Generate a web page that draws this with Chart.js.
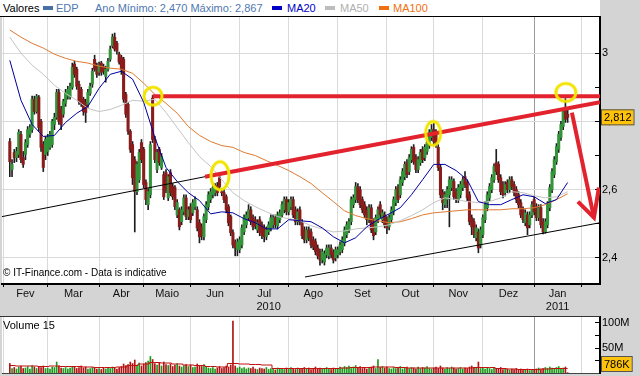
<!DOCTYPE html>
<html>
<head>
<meta charset="utf-8">
<script src="https://cdn.jsdelivr.net/npm/chart.js@4.4.1/dist/chart.umd.min.js"></script>
<style>
  body { margin: 0; }
  #wrap { position: relative; width: 640px; height: 376px; background: #d4d4d4; overflow: hidden;
          font-family: "Liberation Sans", Arial, sans-serif; }
  canvas { position: absolute; left: 0; }
  #legend { position: absolute; left: 0; top: 0; width: 600px; height: 17px; box-sizing: border-box;
            background: #fff; border-bottom: 1px solid #000; font-size: 11px; z-index: 2; }
  #legend span { position: absolute; top: 2px; white-space: nowrap; }
  #legend i { position: absolute; top: 6px; width: 10px; height: 4px; }
  .note { position: absolute; white-space: nowrap; color: #000; z-index: 2; }
</style>
</head>
<body>
<div id="wrap">
  <canvas id="main" width="640" height="311" style="top:0"></canvas>
  <canvas id="vol" width="640" height="65" style="top:311px"></canvas>
  <div id="legend">
    <span style="left:3px;color:#000">Valores</span>
    <i style="left:43px;background:#4a6fa5"></i>
    <span style="left:56px;color:#4f79b0">EDP</span>
    <span style="left:95px;color:#4f79b0">Ano Mínimo: 2,470 Máximo: 2,867</span>
    <i style="left:272px;background:#0000c8"></i>
    <span style="left:287px;color:#0000c8">MA20</span>
    <i style="left:325px;background:#bdbdbd"></i>
    <span style="left:340px;color:#b0b0b0">MA50</span>
    <i style="left:379px;background:#f07010"></i>
    <span style="left:393px;color:#f07010">MA100</span>
  </div>
  <div class="note" style="left:3px;top:267px;font-size:10px">© IT-Finance.com - Data is indicative</div>
  <div class="note" style="left:3px;top:319px;font-size:11px">Volume 15</div>
</div>
<script>
// daily candles, trading-day index starts at firstDay (Feb 2010 = day 0); prices in thousandths of a euro
const firstDay = 3;
const openK = [
  2741, 2659, 2709, 2694, 2703, 2762, 2694, 2703, 2732, 2762,
  2776, 2865, 2829, 2871, 2800, 2732, 2703, 2712, 2724, 2732,
  2791, 2812, 2885, 2835, 2821, 2853, 2874, 2871, 2900, 2968,
  2953, 2909, 2894, 2865, 2856, 2850, 2882, 2909, 2982, 2965,
  2944, 2971, 2959, 2932, 2953, 2982, 3021, 3047, 3029, 2997,
  2988, 2982, 2879, 2850, 2771, 2732, 2688, 2594, 2629, 2738,
  2718, 2621, 2556, 2585, 2868, 2747, 2659, 2718, 2665, 2644,
  2650, 2576, 2650, 2609, 2606, 2526, 2541, 2506, 2535, 2576,
  2521, 2550, 2532, 2550, 2541, 2503, 2491, 2462, 2512, 2550,
  2571, 2585, 2591, 2612, 2635, 2594, 2591, 2579, 2550, 2521,
  2474, 2447, 2424, 2424, 2438, 2476, 2497, 2518, 2541, 2518,
  2512, 2482, 2512, 2497, 2488, 2462, 2476, 2488, 2497, 2518,
  2494, 2512, 2526, 2541, 2571, 2535, 2550, 2571, 2541, 2506,
  2541, 2503, 2482, 2453, 2482, 2476, 2453, 2447, 2429, 2418,
  2394, 2388, 2409, 2406, 2429, 2415, 2400, 2409, 2418, 2424,
  2444, 2468, 2482, 2506, 2556, 2571, 2609, 2600, 2571, 2556,
  2541, 2512, 2547, 2506, 2476, 2512, 2556, 2512, 2526, 2512,
  2491, 2512, 2535, 2562, 2606, 2585, 2621, 2638, 2679, 2653,
  2688, 2724, 2694, 2659, 2679, 2718, 2694, 2712, 2729, 2753,
  2776, 2768, 2724, 2665, 2591, 2556, 2571, 2585, 2606, 2624,
  2594, 2571, 2585, 2606, 2638, 2621, 2585, 2518, 2506, 2459,
  2476, 2438, 2468, 2512, 2547, 2576, 2600, 2629, 2679, 2674,
  2635, 2615, 2591, 2621, 2600, 2629, 2615, 2600, 2585, 2562,
  2541, 2503, 2526, 2497, 2526, 2571, 2550, 2518, 2547, 2506,
  2476, 2497, 2547, 2600, 2644, 2682, 2718, 2753, 2785, 2841, 2821
];
const highK = [
  2750, 2688, 2718, 2724, 2776, 2771, 2712, 2747, 2785, 2791,
  2874, 2874, 2879, 2876, 2806, 2741, 2756, 2762, 2771, 2806,
  2824, 2894, 2894, 2844, 2865, 2894, 2903, 2912, 2971, 2976,
  2959, 2918, 2900, 2871, 2865, 2894, 2912, 2956, 2994, 2971,
  2974, 2976, 2968, 2962, 2985, 3021, 3056, 3059, 3035, 3003,
  2994, 2988, 2885, 2856, 2776, 2741, 2697, 2682, 2718, 2747,
  2724, 2629, 2603, 2741, 2876, 2756, 2718, 2724, 2706, 2653,
  2659, 2644, 2659, 2618, 2612, 2571, 2547, 2550, 2585, 2585,
  2550, 2559, 2571, 2579, 2550, 2512, 2500, 2529, 2565, 2594,
  2603, 2615, 2618, 2621, 2647, 2603, 2600, 2585, 2556, 2526,
  2482, 2453, 2456, 2462, 2497, 2526, 2535, 2556, 2550, 2526,
  2521, 2512, 2521, 2506, 2497, 2491, 2506, 2526, 2526, 2526,
  2535, 2541, 2565, 2579, 2579, 2571, 2579, 2579, 2550, 2544,
  2550, 2512, 2491, 2491, 2491, 2485, 2462, 2456, 2438, 2426,
  2426, 2421, 2438, 2438, 2438, 2424, 2432, 2432, 2447, 2462,
  2491, 2506, 2515, 2579, 2585, 2621, 2618, 2609, 2579, 2565,
  2550, 2556, 2556, 2515, 2526, 2550, 2565, 2541, 2535, 2521,
  2526, 2550, 2579, 2609, 2615, 2638, 2662, 2682, 2688, 2703,
  2726, 2732, 2703, 2697, 2718, 2726, 2732, 2747, 2776, 2791,
  2794, 2776, 2732, 2674, 2600, 2594, 2609, 2638, 2638, 2632,
  2603, 2615, 2624, 2638, 2653, 2629, 2594, 2526, 2515, 2497,
  2485, 2491, 2526, 2565, 2594, 2618, 2644, 2676, 2718, 2682,
  2644, 2624, 2624, 2629, 2638, 2638, 2624, 2609, 2594, 2571,
  2550, 2541, 2535, 2535, 2565, 2579, 2559, 2556, 2556, 2515,
  2515, 2565, 2615, 2662, 2697, 2735, 2771, 2800, 2838, 2867, 2835
];
const lowK = [
  2638, 2638, 2679, 2682, 2694, 2679, 2665, 2688, 2724, 2753,
  2768, 2821, 2824, 2771, 2712, 2653, 2688, 2700, 2718, 2724,
  2776, 2806, 2791, 2776, 2812, 2844, 2865, 2865, 2894, 2929,
  2894, 2850, 2844, 2818, 2797, 2841, 2876, 2900, 2947, 2929,
  2935, 2935, 2938, 2915, 2947, 2976, 3015, 3006, 2997, 2968,
  2938, 2856, 2812, 2762, 2709, 2615, 2476, 2585, 2621, 2679,
  2606, 2556, 2541, 2576, 2738, 2679, 2650, 2671, 2659, 2571,
  2591, 2568, 2582, 2571, 2541, 2518, 2482, 2497, 2526, 2512,
  2512, 2503, 2524, 2541, 2479, 2444, 2453, 2453, 2503, 2541,
  2562, 2576, 2582, 2582, 2600, 2582, 2562, 2532, 2494, 2465,
  2429, 2406, 2406, 2415, 2429, 2468, 2488, 2509, 2497, 2482,
  2485, 2474, 2465, 2456, 2447, 2453, 2468, 2479, 2488, 2488,
  2485, 2503, 2518, 2532, 2526, 2526, 2541, 2518, 2497, 2497,
  2497, 2456, 2444, 2444, 2450, 2429, 2424, 2409, 2397, 2379,
  2385, 2379, 2400, 2397, 2400, 2385, 2391, 2400, 2409, 2415,
  2435, 2459, 2474, 2497, 2547, 2562, 2562, 2547, 2532, 2518,
  2497, 2503, 2474, 2453, 2468, 2503, 2518, 2503, 2488, 2471,
  2482, 2503, 2526, 2553, 2562, 2576, 2612, 2629, 2635, 2644,
  2679, 2674, 2650, 2650, 2671, 2679, 2685, 2703, 2721, 2744,
  2732, 2724, 2656, 2576, 2541, 2547, 2547, 2491, 2597, 2571,
  2562, 2562, 2576, 2597, 2606, 2568, 2497, 2468, 2459, 2450,
  2415, 2429, 2459, 2503, 2538, 2568, 2591, 2621, 2644, 2621,
  2585, 2576, 2582, 2591, 2591, 2600, 2582, 2562, 2547, 2518,
  2503, 2494, 2468, 2488, 2518, 2526, 2509, 2509, 2488, 2470,
  2472, 2488, 2538, 2591, 2635, 2674, 2709, 2744, 2776, 2797, 2797
];
const closeK = [
  2682, 2674, 2694, 2712, 2768, 2688, 2674, 2738, 2776, 2782,
  2865, 2829, 2874, 2782, 2724, 2665, 2747, 2753, 2762, 2800,
  2812, 2885, 2800, 2791, 2859, 2885, 2894, 2903, 2959, 2938,
  2903, 2859, 2853, 2829, 2826, 2885, 2903, 2947, 2953, 2938,
  2965, 2944, 2947, 2953, 2976, 3012, 3047, 3012, 3006, 2974,
  2953, 2865, 2821, 2771, 2718, 2635, 2594, 2674, 2709, 2688,
  2615, 2571, 2594, 2732, 2747, 2688, 2709, 2679, 2697, 2579,
  2600, 2638, 2591, 2579, 2550, 2562, 2491, 2541, 2576, 2521,
  2541, 2512, 2562, 2571, 2488, 2462, 2465, 2521, 2556, 2585,
  2594, 2606, 2609, 2591, 2609, 2591, 2571, 2541, 2503, 2474,
  2438, 2429, 2447, 2453, 2488, 2518, 2526, 2541, 2506, 2491,
  2494, 2503, 2474, 2465, 2462, 2482, 2497, 2518, 2518, 2497,
  2526, 2532, 2556, 2571, 2535, 2562, 2571, 2526, 2506, 2535,
  2506, 2465, 2453, 2482, 2459, 2438, 2432, 2418, 2406, 2394,
  2418, 2412, 2429, 2429, 2409, 2394, 2424, 2424, 2438, 2453,
  2482, 2497, 2506, 2571, 2576, 2609, 2571, 2556, 2541, 2526,
  2512, 2547, 2482, 2465, 2518, 2541, 2526, 2532, 2497, 2488,
  2518, 2541, 2571, 2600, 2571, 2629, 2653, 2674, 2644, 2694,
  2718, 2682, 2659, 2688, 2709, 2688, 2724, 2738, 2768, 2776,
  2741, 2732, 2665, 2585, 2562, 2585, 2600, 2629, 2629, 2579,
  2571, 2606, 2615, 2629, 2615, 2576, 2506, 2491, 2468, 2488,
  2429, 2482, 2518, 2556, 2585, 2609, 2635, 2668, 2653, 2629,
  2594, 2585, 2615, 2600, 2629, 2609, 2591, 2571, 2556, 2526,
  2512, 2532, 2488, 2526, 2556, 2535, 2518, 2547, 2497, 2476,
  2506, 2556, 2606, 2653, 2688, 2726, 2762, 2791, 2829, 2806, 2812
];
// daily volume, millions of shares
const volumeM = [
  19, 9, 11, 8, 12, 14, 9, 10, 13, 8,
  15, 12, 9, 13, 11, 14, 9, 10, 8, 12,
  11, 22, 14, 10, 9, 11, 8, 10, 13, 12,
  9, 11, 14, 10, 12, 8, 9, 11, 10, 8,
  9, 7, 10, 8, 11, 9, 12, 10, 8, 11,
  13, 18, 15, 17, 22, 19, 26, 16, 20, 14,
  18, 21, 24, 33, 27, 19, 16, 20, 14, 22,
  17, 15, 18, 13, 16, 19, 14, 12, 15, 17,
  13, 16, 11, 12, 18, 15, 13, 17, 12, 10,
  9, 11, 8, 10, 13, 9, 11, 14, 12, 16,
  104, 14, 10, 12, 9, 11, 8, 10, 9, 12,
  8, 7, 10, 9, 8, 11, 7, 9, 8, 6,
  10, 8, 9, 7, 10, 8, 11, 9, 7, 10,
  8, 9, 11, 8, 10, 7, 9, 12, 8, 10,
  9, 8, 11, 9, 7, 10, 8, 9, 12, 10,
  13, 11, 14, 9, 12, 15, 10, 13, 9, 11,
  8, 10, 12, 14, 9, 27, 11, 13, 10, 12,
  9, 8, 11, 9, 10, 13, 8, 10, 12, 9,
  11, 10, 8, 12, 9, 11, 10, 13, 9, 8,
  10, 12, 9, 14, 10, 8, 11, 9, 12, 10,
  8, 9, 11, 8, 10, 9, 12, 14, 10, 11,
  22, 9, 10, 8, 11, 9, 7, 10, 8, 9,
  11, 7, 9, 8, 6, 8, 7, 9, 6, 8,
  7, 6, 8, 5, 7, 6, 8, 10, 7, 9,
  11, 9, 12, 10, 8, 11, 13, 9, 10, 12, 0.786
];

// moving averages read every 5 trading days
const maDays = [3, 8, 13, 18, 23, 28, 33, 38, 43, 48, 53, 58, 63, 68, 73, 78, 83, 88, 93, 98,
  103, 108, 113, 118, 123, 128, 133, 138, 143, 148, 153, 158, 163, 168, 173, 178, 183, 188,
  193, 198, 203, 208, 213, 218, 223, 228, 233, 238, 243, 248, 253];
const ma20 = [2.979, 2.862, 2.791, 2.756, 2.759, 2.797, 2.824, 2.844, 2.897, 2.938, 2.947, 2.924,
  2.856, 2.753, 2.665, 2.624, 2.591, 2.568, 2.529, 2.535, 2.532, 2.515, 2.503, 2.485, 2.485, 2.512,
  2.509, 2.506, 2.488, 2.462, 2.444, 2.459, 2.491, 2.512, 2.529, 2.547, 2.585, 2.629, 2.674, 2.674,
  2.656, 2.629, 2.565, 2.556, 2.556, 2.571, 2.585, 2.579, 2.559, 2.571, 2.621];
const ma50 = [3.047, 3.000, 2.965, 2.938, 2.906, 2.882, 2.862, 2.838, 2.829, 2.835, 2.847, 2.862,
  2.859, 2.865, 2.826, 2.782, 2.738, 2.697, 2.668, 2.629, 2.591, 2.568, 2.550, 2.535, 2.521, 2.515,
  2.509, 2.494, 2.485, 2.476, 2.479, 2.485, 2.488, 2.491, 2.497, 2.509, 2.524, 2.541, 2.562, 2.576,
  2.571, 2.565, 2.562, 2.565, 2.576, 2.594, 2.591, 2.582, 2.576, 2.579, 2.594];
const ma100 = [3.068, 3.047, 3.029, 3.015, 2.997, 2.985, 2.976, 2.971, 2.962, 2.956, 2.953, 2.941,
  2.912, 2.879, 2.853, 2.824, 2.785, 2.759, 2.741, 2.729, 2.724, 2.709, 2.700, 2.685, 2.671, 2.656,
  2.638, 2.618, 2.591, 2.565, 2.538, 2.524, 2.515, 2.509, 2.503, 2.506, 2.515, 2.526, 2.532, 2.535,
  2.538, 2.541, 2.541, 2.541, 2.541, 2.544, 2.544, 2.547, 2.556, 2.571, 2.588];
const volMa15 = [15, 14, 14, 13, 14, 13, 13, 12, 11, 11, 12, 15, 18, 21, 20, 18, 16, 15, 13, 12,
  19, 18, 17, 16, 9, 9, 9, 9, 9, 9, 10, 11, 11, 12, 12, 11, 10, 10, 10, 10, 10, 10, 11, 11, 9, 8,
  7, 7, 8, 9, 9];

// axis: first trading day of each month, Feb 2010 .. Feb 2011
const monthStarts = [0, 20, 43, 63, 84, 106, 128, 150, 172, 193, 215, 238, 259];
const monthNames = ['Fev', 'Mar', 'Abr', 'Maio', 'Jun', 'Jul', 'Ago', 'Set', 'Out', 'Nov', 'Dez', 'Jan'];
const yearNames = ['2010', '2011'];
const yearFirstMonth = [0, 11];
const priceTicks = [2.4, 2.5, 2.6, 2.7, 2.8, 2.9, 3.0];
const volumeTicks = [25, 50, 75, 100];

// drawn-on annotations (day index, price)
const resistance = [[67, 2.874], [267.5, 2.874]];
const upperTrend = [[90.5, 2.638], [267.5, 2.856]];
const lowerTrendA = [[-0.5, 2.521], [90.5, 2.638]];
const lowerTrendB = [[135.3, 2.344], [267.5, 2.503]];
const arrowShaft = [[254.9, 2.826], [264.8, 2.518]];
const arrowHead = [[257.6, 2.565], [264.8, 2.518], [267.0, 2.606]];
const marks = [[67.2, 2.874], [97.2, 2.641], [192.7, 2.765], [252.2, 2.885]];
const markSizes = [[20, 20], [20, 30], [17, 26], [22, 20]];

const xMin = -0.5, xMax = 267.5;
const toPts = arr => arr.map(p => ({x: p[0], y: p[1]}));
const days = closeK.map((c, i) => firstDay + i);
const up = closeK.map((c, i) => c >= openK[i]);

// tick positions for the date axis
const labelAt = new Map();
monthNames.forEach((m, k) => labelAt.set((monthStarts[k] + monthStarts[k + 1]) / 2, [m, '']));
yearNames.forEach((y, k) => {
  const a = monthStarts[yearFirstMonth[k]];
  const b = monthStarts[k + 1 < yearNames.length ? yearFirstMonth[k + 1] : monthStarts.length - 1];
  const mid = (a + b) / 2;
  const cur = labelAt.get(mid) || ['', ''];
  labelAt.set(mid, [cur[0], y]);
});
const isStart = v => monthStarts.includes(v);
const xTickValues = [...monthStarts, ...labelAt.keys()].sort((a, b) => a - b);

function ring(w, h) {
  const c = document.createElement('canvas');
  c.width = w + 4; c.height = h + 4;
  const g = c.getContext('2d');
  g.strokeStyle = '#f2e400'; g.lineWidth = 3;
  g.beginPath(); g.ellipse(c.width / 2, c.height / 2, w / 2 - 1, h / 2 - 1, 0, 0, Math.PI * 2); g.stroke();
  return c;
}

// no automatic label padding: the plot edges are fixed
function noPad(s) {
  s.paddingLeft = 0; s.paddingRight = 0; s.paddingTop = 0; s.paddingBottom = 0;
}

const plotBg = {
  id: 'plotBg',
  beforeDraw(chart) {
    const {ctx, chartArea: a} = chart;
    ctx.save(); ctx.fillStyle = '#fff';
    ctx.fillRect(a.left, a.top, a.right - a.left, a.bottom - a.top);
    ctx.restore();
  },
  afterDraw(chart, args, opts) {
    const {ctx, chartArea: a} = chart;
    if (opts.topLine) {
      ctx.save(); ctx.strokeStyle = '#333'; ctx.lineWidth = 1;
      ctx.beginPath(); ctx.moveTo(0, a.top - 0.5); ctx.lineTo(a.right, a.top - 0.5); ctx.stroke();
      ctx.restore();
    }
    if (opts.tag) {
      const y0 = chart.scales.y.getPixelForValue(opts.tag.value);
      const y = Math.min(y0, a.bottom - 9);
      ctx.save();
      ctx.font = '11px "Liberation Sans", Arial, sans-serif';
      const w = ctx.measureText(opts.tag.text).width + 5;
      ctx.fillStyle = '#ffc20a';
      ctx.fillRect(a.right + 1, y - 8, w, 16);
      ctx.strokeStyle = '#555'; ctx.lineWidth = 1;
      ctx.strokeRect(a.right + 1.5, y - 7.5, w, 15);
      ctx.fillStyle = '#000'; ctx.textBaseline = 'middle';
      ctx.fillText(opts.tag.text, a.right + 4, y + 0.5);
      ctx.restore();
    }
  }
};

const font = {family: '"Liberation Sans", Arial, sans-serif', size: 11};
const tenth = v => Math.round(v * 10);

const dateAxis = (showLabels) => ({
  type: 'linear', min: xMin, max: xMax, offset: false,
  afterBuildTicks: s => { s.ticks = xTickValues.map(v => ({value: v})); },
  afterFit: s => { s.height = showLabels ? 27 : 3; noPad(s); },
  grid: {
    offset: false,
    color: c => (c.tick && isStart(c.tick.value)) ? (c.tick.value === 238 ? '#9a9a9a' : '#dadada') : 'rgba(0,0,0,0)',
    tickColor: c => (c.tick && isStart(c.tick.value)) ? '#000' : 'rgba(0,0,0,0)',
    tickLength: 3, drawTicks: showLabels
  },
  border: {color: showLabels ? '#000' : '#444', width: showLabels ? 2 : 1},
  ticks: {
    display: showLabels, autoSkip: false, maxRotation: 0, minRotation: 0, padding: 0,
    color: '#111', font,
    callback: v => labelAt.get(v) || ''
  }
});

new Chart(document.getElementById('main'), {
  type: 'bar',
  data: {
    datasets: [
      {type: 'line', data: toPts(resistance), borderColor: '#e2222c', borderWidth: 4, pointRadius: 0, order: -3},
      {type: 'line', data: toPts(upperTrend), borderColor: '#e2222c', borderWidth: 4, pointRadius: 0, order: -3},
      {type: 'line', data: toPts(lowerTrendA), borderColor: '#000', borderWidth: 1, pointRadius: 0, order: -2},
      {type: 'line', data: toPts(lowerTrendB), borderColor: '#000', borderWidth: 1, pointRadius: 0, order: -2},
      {type: 'line', data: toPts(arrowShaft), borderColor: '#e2222c', borderWidth: 4, pointRadius: 0, order: -3},
      {type: 'line', data: toPts(arrowHead), borderColor: '#e2222c', borderWidth: 4, pointRadius: 0, order: -3,
       borderJoinStyle: 'miter'},
      {type: 'line', data: toPts(marks), showLine: false, pointRadius: 10, order: -4,
       pointStyle: markSizes.map(s => ring(s[0], s[1]))},
      {type: 'line', data: maDays.map((d, i) => ({x: d, y: ma20[i]})), borderColor: '#0000a0', borderWidth: 1, pointRadius: 0, order: -1},
      {type: 'line', data: maDays.map((d, i) => ({x: d, y: ma50[i]})), borderColor: '#c4c4c4', borderWidth: 1, pointRadius: 0, order: -1},
      {type: 'line', data: maDays.map((d, i) => ({x: d, y: ma100[i]})), borderColor: '#e07a30', borderWidth: 1, pointRadius: 0, order: -1},
      {type: 'bar', data: days.map((d, i) => ({x: d, y: [openK[i] / 1000, closeK[i] / 1000]})),
       backgroundColor: up.map(u => u ? '#33943a' : '#8a1c1c'), barThickness: 2.4, grouped: false,
       minBarLength: 1, order: 1},
      {type: 'bar', data: days.map((d, i) => ({x: d, y: [lowK[i] / 1000, highK[i] / 1000]})),
       backgroundColor: '#1e1e1e', barThickness: 1, grouped: false, order: 2}
    ]
  },
  options: {
    responsive: false, animation: false, devicePixelRatio: 1,
    layout: {autoPadding: false, padding: {left: 2, top: 17, right: 0, bottom: 0}},
    plugins: {legend: {display: false}, tooltip: {enabled: false},
              plotBg: {tag: {value: closeK[closeK.length - 1] / 1000, text: '2,812'}}},
    scales: {
      x: dateAxis(true),
      y: {
        type: 'linear', position: 'right', min: 2.3235, max: 3.106, beginAtZero: false,
        afterBuildTicks: s => { s.ticks = priceTicks.map(v => ({value: v})); },
        afterFit: s => { s.width = 40; noPad(s); },
        grid: {
          color: c => (c.tick && tenth(c.tick.value) % 2 === 0) ? '#dadada' : 'rgba(0,0,0,0)',
          tickColor: '#000', tickLength: -5
        },
        border: {color: '#000', width: 2},
        ticks: {
          color: '#000', font, padding: 7,
          callback: v => tenth(v) % 2 ? '' : (tenth(v) === 30 ? '3' : (tenth(v) / 10).toFixed(1).replace('.', ','))
        }
      }
    }
  },
  plugins: [plotBg]
});

new Chart(document.getElementById('vol'), {
  type: 'bar',
  data: {
    datasets: [
      {type: 'line', data: maDays.map((d, i) => ({x: d, y: volMa15[i]})), borderColor: '#c01010', borderWidth: 1,
       pointRadius: 0, stepped: 'middle', order: -1},
      {type: 'bar', data: days.map((d, i) => ({x: d, y: volumeM[i]})),
       backgroundColor: up.map(u => u ? '#1c9a1c' : '#b01414'), barThickness: 1, grouped: false, order: 1}
    ]
  },
  options: {
    responsive: false, animation: false, devicePixelRatio: 1,
    layout: {autoPadding: false, padding: {left: 2, top: 6, right: 0, bottom: 0}},
    plugins: {legend: {display: false}, tooltip: {enabled: false},
              plotBg: {topLine: true, tag: {value: volumeM[volumeM.length - 1], text: '786K'}}},
    scales: {
      x: dateAxis(false),
      y: {
        type: 'linear', position: 'right', min: 0, max: 112,
        afterBuildTicks: s => { s.ticks = volumeTicks.map(v => ({value: v})); },
        afterFit: s => { s.width = 40; noPad(s); },
        grid: {drawOnChartArea: false, tickColor: '#000', tickLength: -5},
        border: {color: '#000', width: 2},
        ticks: {color: '#000', font, padding: 7, callback: v => v % 50 ? '' : v + 'M'}
      }
    }
  },
  plugins: [plotBg]
});
</script>
</body>
</html>
